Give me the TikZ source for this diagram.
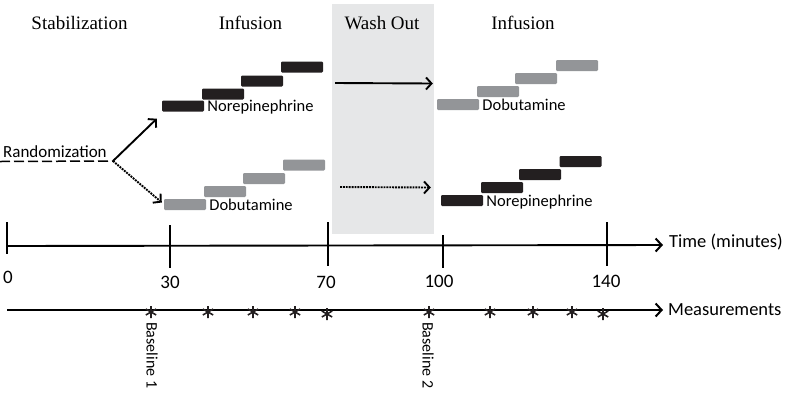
\documentclass[tikz,border=0pt]{standalone}
\usepackage{fontspec}
\setmainfont{Liberation Serif}
\newfontfamily\calfont{Carlito}
\usetikzlibrary{arrows.meta,positioning}

\definecolor{barblack}{RGB}{35,31,32}
\definecolor{bargray}{RGB}{147,149,152}
\definecolor{washgray}{RGB}{230,231,232}

\begin{document}
\begin{tikzpicture}[
  x=1pt, y=-1pt,
  phase/.style={font=\fontsize{19}{19}\selectfont, anchor=base, inner sep=0pt},
  npbar/.style={rectangle, fill=barblack, rounded corners=1.2pt, minimum width=42pt, minimum height=11pt, inner sep=0pt},
  dbbar/.style={rectangle, fill=bargray, rounded corners=1.2pt, minimum width=42pt, minimum height=11pt, inner sep=0pt},
  druglabel/.style={font=\calfont\fontsize{16.5}{16.5}\selectfont, anchor=base west, inner sep=0pt},
  axislabel/.style={font=\calfont\fontsize{18.5}{18.5}\selectfont, anchor=west, inner sep=0pt},
  ticklabel/.style={font=\calfont\fontsize{19}{19}\selectfont, anchor=base, inner sep=0pt},
  meas/.style={rectangle, minimum size=14pt, inner sep=0pt,
    path picture={
      \draw[line width=1.6pt, barblack]
        ([shift={(90:6pt)}]path picture bounding box.center) -- ([shift={(270:6pt)}]path picture bounding box.center)
        ([shift={(30:6pt)}]path picture bounding box.center) -- ([shift={(210:6pt)}]path picture bounding box.center)
        ([shift={(150:6pt)}]path picture bounding box.center) -- ([shift={(330:6pt)}]path picture bounding box.center);
    }},
  baselabel/.style={font=\calfont\fontsize{16}{16}\selectfont, rotate=-90, anchor=west, inner sep=0pt},
  arrow/.style={-{Straight Barb[length=5.5pt, width=12pt, line width=1.9pt]}, line width=1.9pt},
  axis/.style={-{Straight Barb[length=6pt, width=13pt, line width=2pt]}, line width=1.9pt},
  tick/.style={line width=1.8pt},
]
\useasboundingbox (0,0) rectangle (789,392);

% === WASH OUT PERIOD ===
\fill[washgray] (332,4) rectangle (434,234);

% === PHASES ===
\node[phase] (stab) at (79.5,29) {Stabilization};
\node[phase] (inf1) at (250.5,29) {Infusion};
\node[phase] (wash) at (382,29) {Wash Out};
\node[phase] (inf2) at (523,29) {Infusion};

% === FIRST INFUSION ===
\node[npbar] (npa1) at (183,106) {};
\node[npbar] (npa2) at (223,94) {};
\node[npbar] (npa3) at (262,81) {};
\node[npbar] (npa4) at (302,67) {};
\node[druglabel, right=3pt of npa1.south east, anchor=base west] (npalab) {Norepinephrine};

\node[dbbar] (dba1) at (185,204.5) {};
\node[dbbar] (dba2) at (225,191.5) {};
\node[dbbar] (dba3) at (264,178.5) {};
\node[dbbar] (dba4) at (304,165) {};
\node[druglabel, right=3pt of dba1.south east, anchor=base west] (dbalab) {Dobutamine};

% === SECOND INFUSION ===
\node[dbbar] (dbb1) at (458,104.5) {};
\node[dbbar] (dbb2) at (498,91.5) {};
\node[dbbar] (dbb3) at (536,78.5) {};
\node[dbbar] (dbb4) at (577,65.5) {};
\node[druglabel, right=3pt of dbb1.south east, anchor=base west] (dbblab) {Dobutamine};

\node[npbar] (npb1) at (462,200.5) {};
\node[npbar] (npb2) at (502,187.5) {};
\node[npbar] (npb3) at (540,174.5) {};
\node[npbar] (npb4) at (580.5,161.5) {};
\node[druglabel, right=3pt of npb1.south east, anchor=base west] (npblab) {Norepinephrine};

% === RANDOMIZATION ===
\node[druglabel, font=\calfont\fontsize{17}{17}\selectfont] (rand) at (3,157) {Randomization};
\coordinate (randin) at (0,161.5);
\coordinate (split) at (113,161);
\draw[line width=1.5pt, dash pattern=on 10pt off 4pt] (randin) -- (split);
\draw[arrow] (split) -- ([shift={(-5,7)}]npa1.south west);
\draw[arrow, densely dotted] (split) -- ([shift={(-2,-2)}]dba1.west);

% crossover
\coordinate (crossa) at (335,83);
\coordinate (crossb) at (340,187);
\draw[arrow] (crossa) -- ([shift={(-4,-21)}]dbb1.west);
\draw[arrow, densely dotted] (crossb) -- ([shift={(-10,-13)}]npb1.west);

% === TIME AXIS ===
\coordinate (t0) at (7,246);
\node[axislabel] (time) at (669,242) {Time (minutes)};
\draw[axis] (t0) -- ([xshift=-6pt]time.west |- 0,245);
\draw[tick] (7,222) -- (7,254);
\draw[tick] (170,225) -- (170,268);
\draw[tick] (328,222) -- (328,266);
\draw[tick] (443,235) -- (443,268);
\draw[tick] (607,222) -- (607,266);
\node[ticklabel] (min0) at (8,283) {0};
\node[ticklabel] (min30) at (170,288) {30};
\node[ticklabel] (min70) at (326,288) {70};
\node[ticklabel] (min100) at (439,287) {100};
\node[ticklabel] (min140) at (606,287) {140};

% === MEASUREMENTS ===
\coordinate (m0) at (7,310);
\node[axislabel] (measlab) at (668,310) {Measurements};
\draw[axis] (m0) -- ([xshift=-5pt]measlab.west);
\node[meas] (ma1) at (151,312) {};
\node[meas] (ma2) at (208,312) {};
\node[meas] (ma3) at (253,312) {};
\node[meas] (ma4) at (295,312) {};
\node[meas] (ma5) at (327,314) {};
\node[meas] (mb1) at (429,312) {};
\node[meas] (mb2) at (490,312) {};
\node[meas] (mb3) at (533,312) {};
\node[meas] (mb4) at (572,312) {};
\node[meas] (mb5) at (603,314) {};
\node[baselabel] (base1) at (152,322) {Baseline 1};
\node[baselabel] (base2) at (428,322) {Baseline 2};
\end{tikzpicture}
\end{document}
